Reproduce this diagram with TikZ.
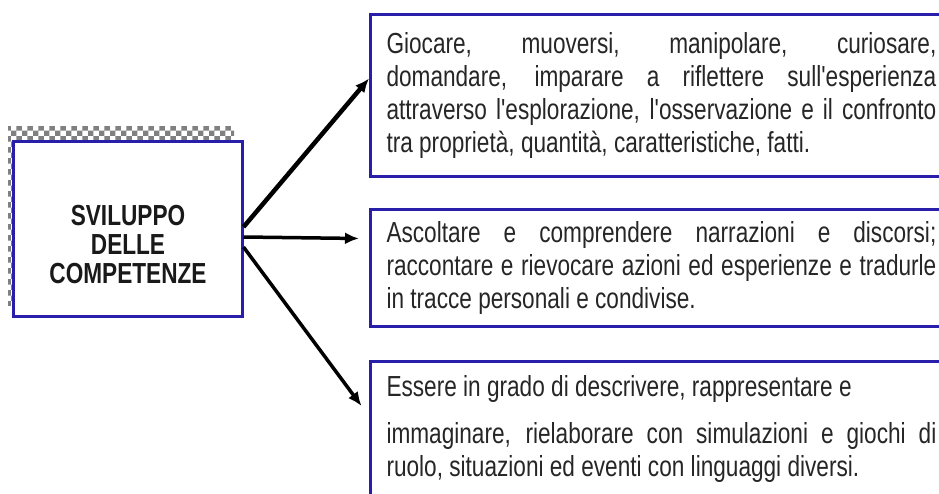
\documentclass[tikz,border=0pt]{standalone}
\usepackage{fontspec}
\setmainfont{Liberation Sans}[Ligatures=TeXOff]
\usetikzlibrary{arrows.meta}
\usetikzlibrary{patterns}
\definecolor{frameblue}{RGB}{40,30,170}
\newcommand{\narrowpar}[2]{\scalebox{0.78}[1]{\parbox{#1}{\fontsize{29}{33}\selectfont #2}}}

\begin{document}
\begin{tikzpicture}[x=1pt,y=-1pt,
    goalbox/.style={draw=frameblue,line width=3pt,fill=white,text=black!85,inner xsep=16pt,inner ysep=0pt,anchor=north west},
    link/.style={line width=3.5pt,-{Latex[length=14pt,width=12pt]}}]
    \path[use as bounding box,clip] (0,0) rectangle (939,494);
    \fill[pattern=checkerboard,pattern color=gray] (8,127) rectangle (234,305);
    \node[draw=frameblue,line width=3pt,fill=white,minimum width=229pt,minimum height=174pt] (dev) at (127.5,229) {};
    \node[text=black!90] (devlabel) at (128,249) {\scalebox{0.78}[1]{\fontsize{29}{29}\selectfont\bfseries\begin{tabular}{@{}c@{}}SVILUPPO\\DELLE\\COMPETENZE\end{tabular}}};
    \node[goalbox,minimum height=162pt] (g1) at (369,13) {\narrowpar{705pt}{Giocare, muoversi, manipolare, curiosare,\linebreak domandare, imparare a riflettere sull'esperienza\linebreak attraverso l'esplorazione, l'osservazione e il confronto\linebreak tra proprietà, quantità, caratteristiche, fatti.}};
    \node[goalbox,minimum height=117pt] (g2) at (369,208) {\narrowpar{705pt}{Ascoltare e comprendere narrazioni e discorsi;\linebreak raccontare e rievocare azioni ed esperienze e tradurle\linebreak in tracce personali e condivise.}};
    \node[goalbox,minimum height=135pt] (g3) at (369,360) {\narrowpar{705pt}{Essere in grado di descrivere, rappresentare e\\[14pt] immaginare, rielaborare con simulazioni e giochi di\linebreak ruolo, situazioni ed eventi con linguaggi diversi.}};
    \draw[link,line width=4.5pt] ([yshift=2pt]dev.east) -- ([yshift=17pt]g1.west);
    \draw[link] ([yshift=-8pt]dev.east) -- ([xshift=-10pt,yshift=29.5pt]g2.west);
    \draw[link] ([yshift=-18pt]dev.east) -- ([xshift=-7.5pt,yshift=23pt]g3.west);
\end{tikzpicture}
\end{document}
